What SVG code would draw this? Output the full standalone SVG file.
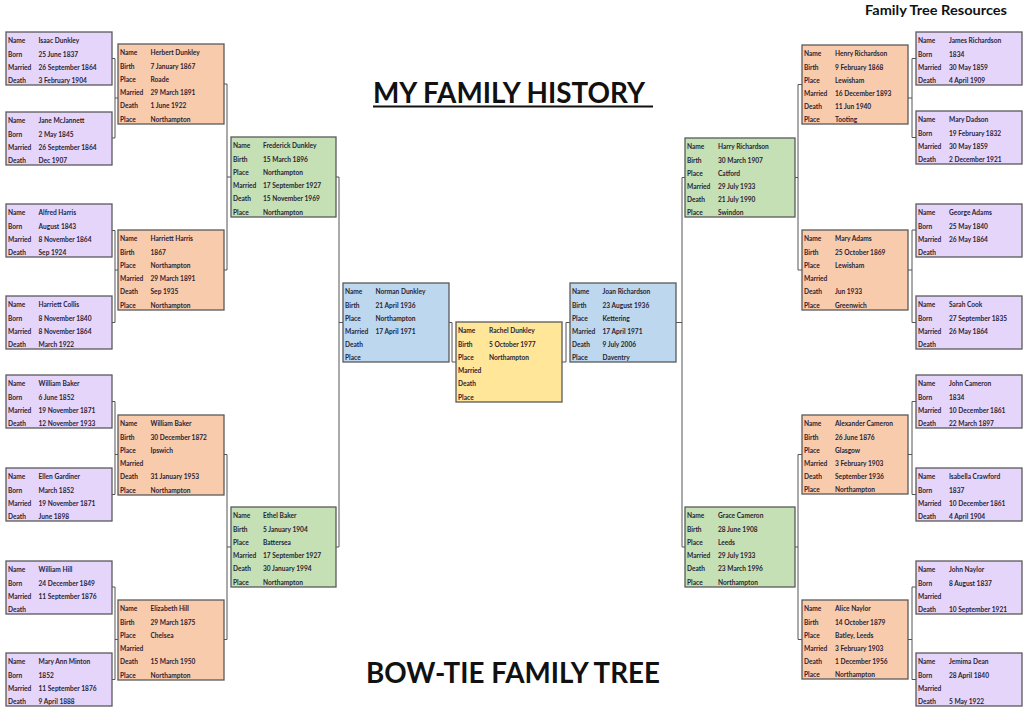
<svg xmlns="http://www.w3.org/2000/svg" width="1024" height="724" viewBox="0 0 1024 724">
<style>
rect.bx{stroke:#5a5a5a;stroke-width:1.3}
.p{fill:#e6d5fb}.o{fill:#f8cbad}.g{fill:#c5e0b4}.b{fill:#bdd7ee}.y{fill:#ffe699}
text.t{font-family:Lato,"Open Sans","Liberation Sans",sans-serif;font-weight:700;font-size:6.6px;fill:#2a2433}
.title{font-family:Lato,"Open Sans","Liberation Sans",sans-serif;font-weight:700;fill:#111}
#connectors path{fill:none;stroke:#555;stroke-width:1}
</style>
<rect width="1024" height="724" fill="#fff"/>
<text class="title" x="865" y="15" font-size="14" textLength="142" lengthAdjust="spacingAndGlyphs">Family Tree Resources</text>
<text class="title" x="373" y="103" font-size="28" textLength="272" lengthAdjust="spacingAndGlyphs">MY FAMILY HISTORY</text>
<line x1="373" y1="106.5" x2="653" y2="106.5" stroke="#111" stroke-width="2"/>
<text class="title" x="366" y="683" font-size="28" textLength="294" lengthAdjust="spacingAndGlyphs">BOW-TIE FAMILY TREE</text>

<g id="connectors">
<path d="M112,58.5 H115 V138 H112 M115,98 H118"/>
<path d="M112,230.5 H115 V322.5 H112 M115,270 H118"/>
<path d="M112,401.5 H115 V494.5 H112 M115,454.5 H118"/>
<path d="M112,587 H115 V679.5 H112 M115,639.5 H118"/>
<path d="M224,84 H227 V270 H224 M227,177 H231"/>
<path d="M224,454.5 H227 V639.5 H224 M227,547 H231"/>
<path d="M336,177 H339 V547 H336 M339,322.5 H343"/>
<path d="M449,322.5 H452 V362 H456"/>
<path d="M570,322.5 H566 V362 H562"/>
<path d="M685,177.5 H682 V547 H685 M676,322.5 H682"/>
<path d="M802,84.5 H798 V270 H802 M795,177.5 H798"/>
<path d="M802,454.5 H798 V639.5 H802 M795,547 H798"/>
<path d="M916,58.5 H912 V137.5 H916 M908,98 H912"/>
<path d="M916,230 H912 V322.5 H916 M908,270 H912"/>
<path d="M916,401.5 H912 V494.5 H916 M908,454.5 H912"/>
<path d="M916,587 H912 V679.5 H916 M908,639.5 H912"/>
</g>

<!-- Left purple -->
<g id="isaac-dunkley" transform="translate(6,32)"><rect class="bx p" width="106" height="53"/>
<text class="t"><tspan x="2" y="11.2">Name</tspan><tspan x="2" y="24.5">Born</tspan><tspan x="2" y="37.8">Married</tspan><tspan x="2" y="51.1">Death</tspan></text>
<text class="t"><tspan x="32.5" y="11.2">Isaac Dunkley</tspan><tspan x="32.5" y="24.5">25 June 1837</tspan><tspan x="32.5" y="37.8">26 September 1864</tspan><tspan x="32.5" y="51.1">3 February 1904</tspan></text></g>
<g id="jane-mcjannett" transform="translate(6,112)"><rect class="bx p" width="106" height="53"/>
<text class="t"><tspan x="2" y="11.2">Name</tspan><tspan x="2" y="24.5">Born</tspan><tspan x="2" y="37.8">Married</tspan><tspan x="2" y="51.1">Death</tspan></text>
<text class="t"><tspan x="32.5" y="11.2">Jane McJannett</tspan><tspan x="32.5" y="24.5">2 May 1845</tspan><tspan x="32.5" y="37.8">26 September 1864</tspan><tspan x="32.5" y="51.1">Dec 1907</tspan></text></g>
<g id="alfred-harris" transform="translate(6,204)"><rect class="bx p" width="106" height="53"/>
<text class="t"><tspan x="2" y="11.2">Name</tspan><tspan x="2" y="24.5">Born</tspan><tspan x="2" y="37.8">Married</tspan><tspan x="2" y="51.1">Death</tspan></text>
<text class="t"><tspan x="32.5" y="11.2">Alfred Harris</tspan><tspan x="32.5" y="24.5">August 1843</tspan><tspan x="32.5" y="37.8">8 November 1864</tspan><tspan x="32.5" y="51.1">Sep 1924</tspan></text></g>
<g id="harriett-collis" transform="translate(6,296)"><rect class="bx p" width="106" height="53"/>
<text class="t"><tspan x="2" y="11.2">Name</tspan><tspan x="2" y="24.5">Born</tspan><tspan x="2" y="37.8">Married</tspan><tspan x="2" y="51.1">Death</tspan></text>
<text class="t"><tspan x="32.5" y="11.2">Harriett Collis</tspan><tspan x="32.5" y="24.5">8 November 1840</tspan><tspan x="32.5" y="37.8">8 November 1864</tspan><tspan x="32.5" y="51.1">March 1922</tspan></text></g>
<g id="william-baker-sr" transform="translate(6,375)"><rect class="bx p" width="106" height="53"/>
<text class="t"><tspan x="2" y="11.2">Name</tspan><tspan x="2" y="24.5">Born</tspan><tspan x="2" y="37.8">Married</tspan><tspan x="2" y="51.1">Death</tspan></text>
<text class="t"><tspan x="32.5" y="11.2">William Baker</tspan><tspan x="32.5" y="24.5">6 June 1852</tspan><tspan x="32.5" y="37.8">19 November 1871</tspan><tspan x="32.5" y="51.1">12 November 1933</tspan></text></g>
<g id="ellen-gardiner" transform="translate(6,468)"><rect class="bx p" width="106" height="53"/>
<text class="t"><tspan x="2" y="11.2">Name</tspan><tspan x="2" y="24.5">Born</tspan><tspan x="2" y="37.8">Married</tspan><tspan x="2" y="51.1">Death</tspan></text>
<text class="t"><tspan x="32.5" y="11.2">Ellen Gardiner</tspan><tspan x="32.5" y="24.5">March 1852</tspan><tspan x="32.5" y="37.8">19 November 1871</tspan><tspan x="32.5" y="51.1">June 1898</tspan></text></g>
<g id="william-hill" transform="translate(6,561)"><rect class="bx p" width="106" height="53"/>
<text class="t"><tspan x="2" y="11.2">Name</tspan><tspan x="2" y="24.5">Born</tspan><tspan x="2" y="37.8">Married</tspan><tspan x="2" y="51.1">Death</tspan></text>
<text class="t"><tspan x="32.5" y="11.2">William Hill</tspan><tspan x="32.5" y="24.5">24 December 1849</tspan><tspan x="32.5" y="37.8">11 September 1876</tspan></text></g>
<g id="mary-ann-minton" transform="translate(6,653)"><rect class="bx p" width="106" height="53"/>
<text class="t"><tspan x="2" y="11.2">Name</tspan><tspan x="2" y="24.5">Born</tspan><tspan x="2" y="37.8">Married</tspan><tspan x="2" y="51.1">Death</tspan></text>
<text class="t"><tspan x="32.5" y="11.2">Mary Ann Minton</tspan><tspan x="32.5" y="24.5">1852</tspan><tspan x="32.5" y="37.8">11 September 1876</tspan><tspan x="32.5" y="51.1">9 April 1888</tspan></text></g>

<!-- Left orange -->
<g id="herbert-dunkley" transform="translate(118,44)"><rect class="bx o" width="106" height="80"/>
<text class="t"><tspan x="2" y="11.2">Name</tspan><tspan x="2" y="24.5">Birth</tspan><tspan x="2" y="37.8">Place</tspan><tspan x="2" y="51.1">Married</tspan><tspan x="2" y="64.4">Death</tspan><tspan x="2" y="77.7">Place</tspan></text>
<text class="t"><tspan x="32.5" y="11.2">Herbert Dunkley</tspan><tspan x="32.5" y="24.5">7 January 1867</tspan><tspan x="32.5" y="37.8">Roade</tspan><tspan x="32.5" y="51.1">29 March 1891</tspan><tspan x="32.5" y="64.4">1 June 1922</tspan><tspan x="32.5" y="77.7">Northampton</tspan></text></g>
<g id="harriett-harris" transform="translate(118,230)"><rect class="bx o" width="106" height="80"/>
<text class="t"><tspan x="2" y="11.2">Name</tspan><tspan x="2" y="24.5">Birth</tspan><tspan x="2" y="37.8">Place</tspan><tspan x="2" y="51.1">Married</tspan><tspan x="2" y="64.4">Death</tspan><tspan x="2" y="77.7">Place</tspan></text>
<text class="t"><tspan x="32.5" y="11.2">Harriett Harris</tspan><tspan x="32.5" y="24.5">1867</tspan><tspan x="32.5" y="37.8">Northampton</tspan><tspan x="32.5" y="51.1">29 March 1891</tspan><tspan x="32.5" y="64.4">Sep 1935</tspan><tspan x="32.5" y="77.7">Northampton</tspan></text></g>
<g id="william-baker" transform="translate(118,415)"><rect class="bx o" width="106" height="80"/>
<text class="t"><tspan x="2" y="11.2">Name</tspan><tspan x="2" y="24.5">Birth</tspan><tspan x="2" y="37.8">Place</tspan><tspan x="2" y="51.1">Married</tspan><tspan x="2" y="64.4">Death</tspan><tspan x="2" y="77.7">Place</tspan></text>
<text class="t"><tspan x="32.5" y="11.2">William Baker</tspan><tspan x="32.5" y="24.5">30 December 1872</tspan><tspan x="32.5" y="37.8">Ipswich</tspan><tspan x="32.5" y="64.4">31 January 1953</tspan><tspan x="32.5" y="77.7">Northampton</tspan></text></g>
<g id="elizabeth-hill" transform="translate(118,600)"><rect class="bx o" width="106" height="80"/>
<text class="t"><tspan x="2" y="11.2">Name</tspan><tspan x="2" y="24.5">Birth</tspan><tspan x="2" y="37.8">Place</tspan><tspan x="2" y="51.1">Married</tspan><tspan x="2" y="64.4">Death</tspan><tspan x="2" y="77.7">Place</tspan></text>
<text class="t"><tspan x="32.5" y="11.2">Elizabeth Hill</tspan><tspan x="32.5" y="24.5">29 March 1875</tspan><tspan x="32.5" y="37.8">Chelsea</tspan><tspan x="32.5" y="64.4">15 March 1950</tspan><tspan x="32.5" y="77.7">Northampton</tspan></text></g>

<!-- Left green -->
<g id="frederick-dunkley" transform="translate(231,137)"><rect class="bx g" width="105" height="80"/>
<text class="t"><tspan x="2" y="11.2">Name</tspan><tspan x="2" y="24.5">Birth</tspan><tspan x="2" y="37.8">Place</tspan><tspan x="2" y="51.1">Married</tspan><tspan x="2" y="64.4">Death</tspan><tspan x="2" y="77.7">Place</tspan></text>
<text class="t"><tspan x="32" y="11.2">Frederick Dunkley</tspan><tspan x="32" y="24.5">15 March 1896</tspan><tspan x="32" y="37.8">Northampton</tspan><tspan x="32" y="51.1">17 September 1927</tspan><tspan x="32" y="64.4">15 November 1969</tspan><tspan x="32" y="77.7">Northampton</tspan></text></g>
<g id="ethel-baker" transform="translate(231,507)"><rect class="bx g" width="105" height="80"/>
<text class="t"><tspan x="2" y="11.2">Name</tspan><tspan x="2" y="24.5">Birth</tspan><tspan x="2" y="37.8">Place</tspan><tspan x="2" y="51.1">Married</tspan><tspan x="2" y="64.4">Death</tspan><tspan x="2" y="77.7">Place</tspan></text>
<text class="t"><tspan x="32" y="11.2">Ethel Baker</tspan><tspan x="32" y="24.5">5 January 1904</tspan><tspan x="32" y="37.8">Battersea</tspan><tspan x="32" y="51.1">17 September 1927</tspan><tspan x="32" y="64.4">30 January 1994</tspan><tspan x="32" y="77.7">Northampton</tspan></text></g>

<!-- Centre -->
<g id="norman-dunkley" transform="translate(343,283)"><rect class="bx b" width="106" height="79"/>
<text class="t"><tspan x="2" y="11.2">Name</tspan><tspan x="2" y="24.5">Birth</tspan><tspan x="2" y="37.8">Place</tspan><tspan x="2" y="51.1">Married</tspan><tspan x="2" y="64.4">Death</tspan><tspan x="2" y="77.2">Place</tspan></text>
<text class="t"><tspan x="32.5" y="11.2">Norman Dunkley</tspan><tspan x="32.5" y="24.5">21 April 1936</tspan><tspan x="32.5" y="37.8">Northampton</tspan><tspan x="32.5" y="51.1">17 April 1971</tspan></text></g>
<g id="rachel-dunkley" transform="translate(456,322)"><rect class="bx y" width="106" height="80"/>
<text class="t"><tspan x="2" y="11.2">Name</tspan><tspan x="2" y="24.5">Birth</tspan><tspan x="2" y="37.8">Place</tspan><tspan x="2" y="51.1">Married</tspan><tspan x="2" y="64.4">Death</tspan><tspan x="2" y="77.7">Place</tspan></text>
<text class="t"><tspan x="33" y="11.2">Rachel Dunkley</tspan><tspan x="33" y="24.5">5 October 1977</tspan><tspan x="33" y="37.8">Northampton</tspan></text></g>
<g id="joan-richardson" transform="translate(570,283)"><rect class="bx b" width="106" height="79"/>
<text class="t"><tspan x="2" y="11.2">Name</tspan><tspan x="2" y="24.5">Birth</tspan><tspan x="2" y="37.8">Place</tspan><tspan x="2" y="51.1">Married</tspan><tspan x="2" y="64.4">Death</tspan><tspan x="2" y="77.2">Place</tspan></text>
<text class="t"><tspan x="32.5" y="11.2">Joan Richardson</tspan><tspan x="32.5" y="24.5">23 August 1936</tspan><tspan x="32.5" y="37.8">Kettering</tspan><tspan x="32.5" y="51.1">17 April 1971</tspan><tspan x="32.5" y="64.4">9 July 2006</tspan><tspan x="32.5" y="77.2">Daventry</tspan></text></g>

<!-- Right green -->
<g id="harry-richardson" transform="translate(685,138)"><rect class="bx g" width="110" height="79"/>
<text class="t"><tspan x="2" y="11.2">Name</tspan><tspan x="2" y="24.5">Birth</tspan><tspan x="2" y="37.8">Place</tspan><tspan x="2" y="51.1">Married</tspan><tspan x="2" y="64.4">Death</tspan><tspan x="2" y="77.2">Place</tspan></text>
<text class="t"><tspan x="33" y="11.2">Harry Richardson</tspan><tspan x="33" y="24.5">30 March 1907</tspan><tspan x="33" y="37.8">Catford</tspan><tspan x="33" y="51.1">29 July 1933</tspan><tspan x="33" y="64.4">21 July 1990</tspan><tspan x="33" y="77.2">Swindon</tspan></text></g>
<g id="grace-cameron" transform="translate(685,507)"><rect class="bx g" width="110" height="80"/>
<text class="t"><tspan x="2" y="11.2">Name</tspan><tspan x="2" y="24.5">Birth</tspan><tspan x="2" y="37.8">Place</tspan><tspan x="2" y="51.1">Married</tspan><tspan x="2" y="64.4">Death</tspan><tspan x="2" y="77.7">Place</tspan></text>
<text class="t"><tspan x="33" y="11.2">Grace Cameron</tspan><tspan x="33" y="24.5">28 June 1908</tspan><tspan x="33" y="37.8">Leeds</tspan><tspan x="33" y="51.1">29 July 1933</tspan><tspan x="33" y="64.4">23 March 1996</tspan><tspan x="33" y="77.7">Northampton</tspan></text></g>

<!-- Right orange -->
<g id="henry-richardson" transform="translate(802,45)"><rect class="bx o" width="106" height="79"/>
<text class="t"><tspan x="2" y="11.2">Name</tspan><tspan x="2" y="24.5">Birth</tspan><tspan x="2" y="37.8">Place</tspan><tspan x="2" y="51.1">Married</tspan><tspan x="2" y="64.4">Death</tspan><tspan x="2" y="77.2">Place</tspan></text>
<text class="t"><tspan x="33" y="11.2">Henry Richardson</tspan><tspan x="33" y="24.5">9 February 1868</tspan><tspan x="33" y="37.8">Lewisham</tspan><tspan x="33" y="51.1">16 December 1893</tspan><tspan x="33" y="64.4">11 Jun 1940</tspan><tspan x="33" y="77.2">Tooting</tspan></text></g>
<g id="mary-adams" transform="translate(802,230)"><rect class="bx o" width="106" height="80"/>
<text class="t"><tspan x="2" y="11.2">Name</tspan><tspan x="2" y="24.5">Birth</tspan><tspan x="2" y="37.8">Place</tspan><tspan x="2" y="51.1">Married</tspan><tspan x="2" y="64.4">Death</tspan><tspan x="2" y="77.7">Place</tspan></text>
<text class="t"><tspan x="33" y="11.2">Mary Adams</tspan><tspan x="33" y="24.5">25 October 1869</tspan><tspan x="33" y="37.8">Lewisham</tspan><tspan x="33" y="64.4">Jun 1933</tspan><tspan x="33" y="77.7">Greenwich</tspan></text></g>
<g id="alexander-cameron" transform="translate(802,415)"><rect class="bx o" width="106" height="79"/>
<text class="t"><tspan x="2" y="11.2">Name</tspan><tspan x="2" y="24.5">Birth</tspan><tspan x="2" y="37.8">Place</tspan><tspan x="2" y="51.1">Married</tspan><tspan x="2" y="64.4">Death</tspan><tspan x="2" y="77.2">Place</tspan></text>
<text class="t"><tspan x="33" y="11.2">Alexander Cameron</tspan><tspan x="33" y="24.5">26 June 1876</tspan><tspan x="33" y="37.8">Glasgow</tspan><tspan x="33" y="51.1">3 February 1903</tspan><tspan x="33" y="64.4">September 1936</tspan><tspan x="33" y="77.2">Northampton</tspan></text></g>
<g id="alice-naylor" transform="translate(802,600)"><rect class="bx o" width="106" height="79"/>
<text class="t"><tspan x="2" y="11.2">Name</tspan><tspan x="2" y="24.5">Birth</tspan><tspan x="2" y="37.8">Place</tspan><tspan x="2" y="51.1">Married</tspan><tspan x="2" y="64.4">Death</tspan><tspan x="2" y="77.2">Place</tspan></text>
<text class="t"><tspan x="33" y="11.2">Alice Naylor</tspan><tspan x="33" y="24.5">14 October 1879</tspan><tspan x="33" y="37.8">Batley, Leeds</tspan><tspan x="33" y="51.1">3 February 1903</tspan><tspan x="33" y="64.4">1 December 1956</tspan><tspan x="33" y="77.2">Northampton</tspan></text></g>

<!-- Right purple -->
<g id="james-richardson" transform="translate(916,32)"><rect class="bx p" width="106" height="53"/>
<text class="t"><tspan x="2" y="11.2">Name</tspan><tspan x="2" y="24.5">Born</tspan><tspan x="2" y="37.8">Married</tspan><tspan x="2" y="51.1">Death</tspan></text>
<text class="t"><tspan x="33" y="11.2">James Richardson</tspan><tspan x="33" y="24.5">1834</tspan><tspan x="33" y="37.8">30 May 1859</tspan><tspan x="33" y="51.1">4 April 1909</tspan></text></g>
<g id="mary-dadson" transform="translate(916,111)"><rect class="bx p" width="106" height="53"/>
<text class="t"><tspan x="2" y="11.2">Name</tspan><tspan x="2" y="24.5">Born</tspan><tspan x="2" y="37.8">Married</tspan><tspan x="2" y="51.1">Death</tspan></text>
<text class="t"><tspan x="33" y="11.2">Mary Dadson</tspan><tspan x="33" y="24.5">19 February 1832</tspan><tspan x="33" y="37.8">30 May 1859</tspan><tspan x="33" y="51.1">2 December 1921</tspan></text></g>
<g id="george-adams" transform="translate(916,204)"><rect class="bx p" width="106" height="53"/>
<text class="t"><tspan x="2" y="11.2">Name</tspan><tspan x="2" y="24.5">Born</tspan><tspan x="2" y="37.8">Married</tspan><tspan x="2" y="51.1">Death</tspan></text>
<text class="t"><tspan x="33" y="11.2">George Adams</tspan><tspan x="33" y="24.5">25 May 1840</tspan><tspan x="33" y="37.8">26 May 1864</tspan></text></g>
<g id="sarah-cook" transform="translate(916,296)"><rect class="bx p" width="106" height="53"/>
<text class="t"><tspan x="2" y="11.2">Name</tspan><tspan x="2" y="24.5">Born</tspan><tspan x="2" y="37.8">Married</tspan><tspan x="2" y="51.1">Death</tspan></text>
<text class="t"><tspan x="33" y="11.2">Sarah Cook</tspan><tspan x="33" y="24.5">27 September 1835</tspan><tspan x="33" y="37.8">26 May 1864</tspan></text></g>
<g id="john-cameron" transform="translate(916,375)"><rect class="bx p" width="106" height="53"/>
<text class="t"><tspan x="2" y="11.2">Name</tspan><tspan x="2" y="24.5">Born</tspan><tspan x="2" y="37.8">Married</tspan><tspan x="2" y="51.1">Death</tspan></text>
<text class="t"><tspan x="33" y="11.2">John Cameron</tspan><tspan x="33" y="24.5">1834</tspan><tspan x="33" y="37.8">10 December 1861</tspan><tspan x="33" y="51.1">22 March 1897</tspan></text></g>
<g id="isabella-crawford" transform="translate(916,468)"><rect class="bx p" width="106" height="53"/>
<text class="t"><tspan x="2" y="11.2">Name</tspan><tspan x="2" y="24.5">Born</tspan><tspan x="2" y="37.8">Married</tspan><tspan x="2" y="51.1">Death</tspan></text>
<text class="t"><tspan x="33" y="11.2">Isabella Crawford</tspan><tspan x="33" y="24.5">1837</tspan><tspan x="33" y="37.8">10 December 1861</tspan><tspan x="33" y="51.1">4 April 1904</tspan></text></g>
<g id="john-naylor" transform="translate(916,561)"><rect class="bx p" width="106" height="53"/>
<text class="t"><tspan x="2" y="11.2">Name</tspan><tspan x="2" y="24.5">Born</tspan><tspan x="2" y="37.8">Married</tspan><tspan x="2" y="51.1">Death</tspan></text>
<text class="t"><tspan x="33" y="11.2">John Naylor</tspan><tspan x="33" y="24.5">8 August 1837</tspan><tspan x="33" y="51.1">10 September 1921</tspan></text></g>
<g id="jemima-dean" transform="translate(916,653)"><rect class="bx p" width="106" height="53"/>
<text class="t"><tspan x="2" y="11.2">Name</tspan><tspan x="2" y="24.5">Born</tspan><tspan x="2" y="37.8">Married</tspan><tspan x="2" y="51.1">Death</tspan></text>
<text class="t"><tspan x="33" y="11.2">Jemima Dean</tspan><tspan x="33" y="24.5">28 April 1840</tspan><tspan x="33" y="51.1">5 May 1922</tspan></text></g>
</svg>
